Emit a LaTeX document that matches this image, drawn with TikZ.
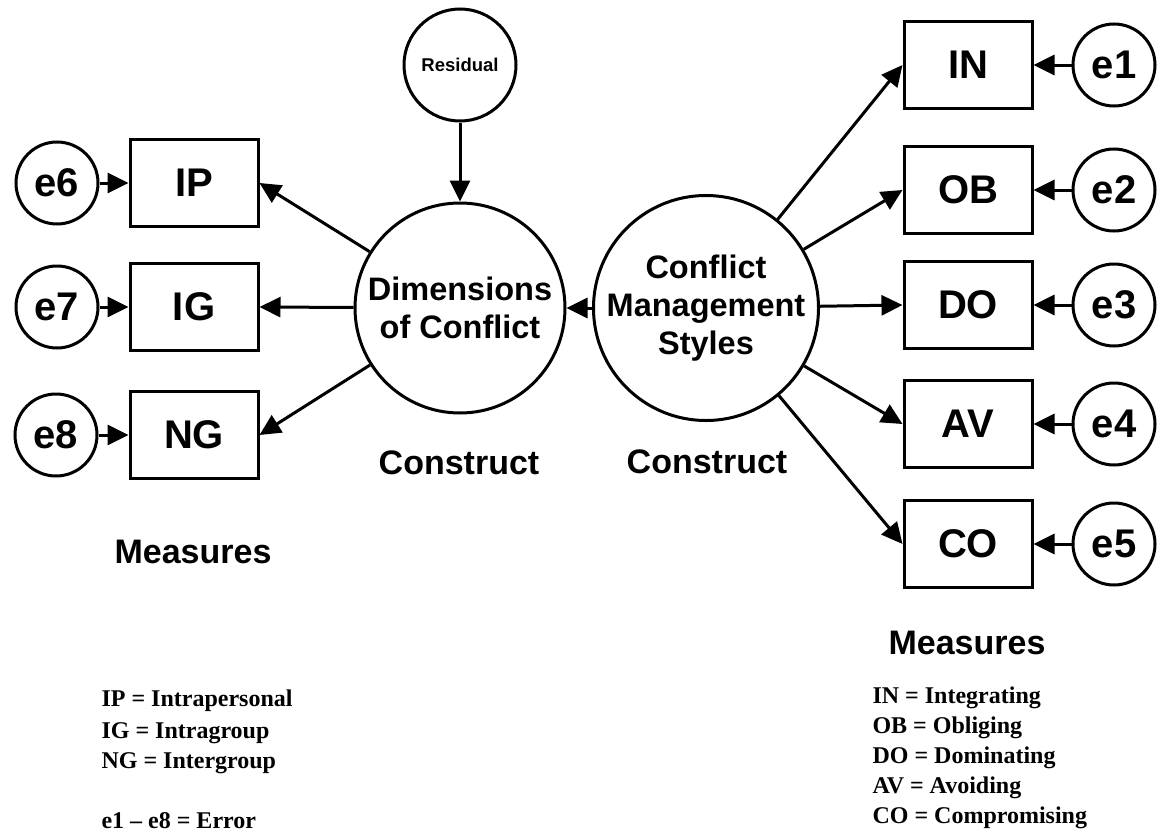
\documentclass[tikz,border=0pt]{standalone}
\usepackage{fontspec}
\setmainfont{Liberation Sans}
\newfontfamily\legendfont{Liberation Serif}
\usetikzlibrary{arrows.meta}
\begin{document}
\begin{tikzpicture}[x=1pt,y=-1pt,
  line width=3pt,
  latent/.style={draw, circle, inner sep=0pt, minimum size=210pt, align=center,
    font=\bfseries\fontsize{32.5}{38}\selectfont},
  errvar/.style={draw, circle, inner sep=0pt, minimum size=82pt,
    font=\bfseries\fontsize{40}{40}\selectfont},
  measure/.style={draw, rectangle, inner sep=0pt, minimum width=128pt, minimum height=87pt,
    font=\bfseries\fontsize{40}{40}\selectfont},
  heading/.style={inner sep=0pt, font=\bfseries\fontsize{34}{34}\selectfont},
  legend/.style={anchor=base west, inner sep=0pt,
    font=\legendfont\bfseries\fontsize{24}{24}\selectfont},
  link/.style={-{Triangle[length=21pt,width=20pt]}}
]
\useasboundingbox (0,0) rectangle (1160,835);

% latent constructs
\node[latent, minimum size=112pt, font=\bfseries\fontsize{18.5}{18.5}\selectfont] (res) at (460,65) {Residual};
\node[latent] (dim) at (460,308) {Dimensions\\of Conflict};
\node[latent] (cms) at (706,308) {Conflict\\Management\\Styles};

% left measures and their errors
\node[measure] (ip) at (194,183) {IP};
\node[measure] (ig) at (194,307) {IG};
\node[measure] (ng) at (194,435) {NG};
\node[errvar] (e6) at (57,183) {e6};
\node[errvar] (e7) at (57,307) {e7};
\node[errvar] (e8) at (56,435) {e8};

% right measures and their errors
\node[measure] (in) at (968,65) {IN};
\node[measure] (ob) at (968,190) {OB};
\node[measure] (do) at (968,305) {DO};
\node[measure] (av) at (968,424) {AV};
\node[measure] (co) at (968,544) {CO};
\node[errvar] (e1) at (1114,65) {e1};
\node[errvar] (e2) at (1114,190) {e2};
\node[errvar] (e3) at (1114,305) {e3};
\node[errvar] (e4) at (1114,424) {e4};
\node[errvar] (e5) at (1114,544) {e5};

% paths
\draw[link] (res) -- (dim);
\draw[link] (cms) -- (dim);
\draw[link] (dim) -- (ip.east);
\draw[link] (dim) -- (ig.east);
\draw[link] (dim) -- (ng.east);
\draw[link] (cms) -- (in.west);
\draw[link] (cms) -- (ob.west);
\draw[link] (cms) -- (do.west);
\draw[link] (cms) -- (av.west);
\draw[link] (cms) -- (co.west);
\draw[link] (e6) -- (ip);
\draw[link] (e7) -- (ig);
\draw[link] (e8) -- (ng);
\draw[link] (e1) -- (in);
\draw[link] (e2) -- (ob);
\draw[link] (e3) -- (do);
\draw[link] (e4) -- (av);
\draw[link] (e5) -- (co);

% headings
\node[heading] (c1) at (459,463) {Construct};
\node[heading] (c2) at (707,462) {Construct};
\node[heading] (m1) at (193,552) {Measures};
\node[heading] (m2) at (967,643) {Measures};

% legends
\node[legend] (l1) at (100,706) {IP = Intrapersonal};
\node[legend] (l2) at (100,738) {IG = Intragroup};
\node[legend] (l3) at (100,768) {NG = Intergroup};
\node[legend] (l4) at (100,828) {e1 \textendash\ e8 = Error};
\node[legend] (r1) at (871,703) {IN = Integrating};
\node[legend] (r2) at (871,733) {OB = Obliging};
\node[legend] (r3) at (871,763) {DO = Dominating};
\node[legend] (r4) at (871,793) {AV = Avoiding};
\node[legend] (r5) at (871,823) {CO = Compromising};
\end{tikzpicture}
\end{document}
